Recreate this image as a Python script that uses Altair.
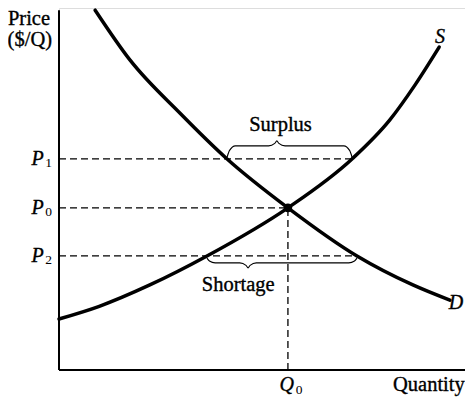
import altair as alt
import pandas as pd

# ---- data (quantity / price units) ----
supply_q = [0.0, 9.8, 22.1, 36.0, 55.7, 71.3, 80.5, 86.6, 92.5]
supply_p = [14.1, 17.6, 23.5, 31.5, 44.8, 58.3, 69.1, 78.7, 89.2]
demand_q = [8.8, 17.3, 29.4, 40.9, 55.7, 72.5, 86.1, 95.1]
demand_p = [99.4, 85.6, 71.0, 58.3, 44.8, 31.5, 23.5, 19.3]

Q0, P0, P1, P2 = 55.7, 44.8, 58.3, 31.5
surplus_q = [40.9, 71.3]     # demand and supply at P1
shortage_q = [36.0, 72.5]    # supply and demand at P2

FONT = "Liberation Serif"
W, H = 406, 362
XMAX = W / 4.11
xs = alt.Scale(domain=[0, XMAX], nice=False, zero=False)
ys = alt.Scale(domain=[0, 100], nice=False, zero=False)

curves = pd.DataFrame(
    [{"q": q, "p": p, "curve": "S", "i": i} for i, (q, p) in enumerate(zip(supply_q, supply_p))]
    + [{"q": q, "p": p, "curve": "D", "i": i} for i, (q, p) in enumerate(zip(demand_q, demand_p))]
)

def brace(name, x1, x2, xm, yend, ybar, ytip):
    d = ybar - yend
    pts = [(x1, yend), (x1 + 0.6, yend + 0.6 * d), (x1 + 2.0, ybar),
           (xm - 2.0, ybar), (xm - 0.5, ybar + 0.5 * (ytip - ybar)), (xm, ytip),
           (xm + 0.5, ybar + 0.5 * (ytip - ybar)), (xm + 2.0, ybar),
           (x2 - 2.0, ybar), (x2 - 0.6, yend + 0.6 * d), (x2, yend)]
    return [{"q": a, "p": b, "b": name, "i": k} for k, (a, b) in enumerate(pts)]

braces = pd.DataFrame(
    brace("surplus", surplus_q[0], surplus_q[1], 53.0, P1 + 0.5, P1 + 3.6, P1 + 5.0)
    + brace("shortage", shortage_q[0], shortage_q[1], 46.0, P2 - 0.6, P2 - 1.9, P2 - 3.3)
)

dashes = pd.DataFrame([
    {"x": 0, "x2": surplus_q[1], "y": P1, "y2": P1},
    {"x": 0, "x2": Q0, "y": P0, "y2": P0},
    {"x": 0, "x2": shortage_q[1], "y": P2, "y2": P2},
    {"x": Q0, "x2": Q0, "y": 0, "y2": P0},
])

axes = pd.DataFrame([
    {"x": 0, "x2": 0, "y": 0, "y2": 99.4},
    {"x": 0, "x2": XMAX, "y": 0, "y2": 0},
])

eq = pd.DataFrame([{"q": Q0, "p": P0}])

words = pd.DataFrame([
    {"x": -7.3, "y": 95.3, "t": "Price"},
    {"x": -7.1, "y": 89.6, "t": "($/Q)"},
    {"x": 53.9, "y": 65.9, "t": "Surplus"},
    {"x": 43.6, "y": 21.8, "t": "Shortage"},
    {"x": 90.0, "y": -5.8, "t": "Quantity"},
])

italics = pd.DataFrame([
    {"x": -5.2, "y": P1, "t": "P"},
    {"x": -5.2, "y": P0, "t": "P"},
    {"x": -5.2, "y": P2, "t": "P"},
    {"x": Q0 - 0.3, "y": -4.2, "t": "Q"},
    {"x": 92.7, "y": 92.0, "t": "S"},
    {"x": 96.6, "y": 18.5, "t": "D"},
])

subs = pd.DataFrame([
    {"x": -2.5, "y": P1 - 1.2, "t": "1"},
    {"x": -2.5, "y": P0 - 1.2, "t": "0"},
    {"x": -2.5, "y": P2 - 1.2, "t": "2"},
    {"x": Q0 + 2.7, "y": -5.6, "t": "0"},
])

X = lambda f: alt.X(f, type="quantitative", scale=xs, axis=None)
Y = lambda f: alt.Y(f, type="quantitative", scale=ys, axis=None)

axis_layer = alt.Chart(axes).mark_rule(color="black", strokeWidth=2).encode(
    x=X("x"), x2="x2", y=Y("y"), y2="y2")

dash_layer = alt.Chart(dashes).mark_rule(color="black", strokeWidth=1.3, strokeDash=[7, 4]).encode(
    x=X("x"), x2="x2", y=Y("y"), y2="y2")

curve_layer = alt.Chart(curves).mark_line(color="black", strokeWidth=3.5, interpolate="monotone",
                                          strokeCap="round").encode(
    x=X("q"), y=Y("p"), detail="curve:N", order="i:Q")

brace_layer = alt.Chart(braces).mark_line(color="black", strokeWidth=1.1, interpolate="monotone").encode(
    x=X("q"), y=Y("p"), detail="b:N", order="i:Q")

eq_layer = alt.Chart(eq).mark_circle(color="black", size=75, opacity=1).encode(x=X("q"), y=Y("p"))

word_layer = alt.Chart(words).mark_text(font=FONT, fontSize=20.5, color="black", align="center",
                                        baseline="alphabetic", stroke="black", strokeWidth=0.35).encode(
    x=X("x"), y=Y("y"), text="t:N")

ital_layer = alt.Chart(italics).mark_text(font=FONT, fontSize=20, fontStyle="italic", color="black",
                                          align="center", baseline="middle",
                                          stroke="black", strokeWidth=0.35).encode(
    x=X("x"), y=Y("y"), text="t:N")

sub_layer = alt.Chart(subs).mark_text(font=FONT, fontSize=13.5, color="black",
                                      align="center", baseline="middle").encode(
    x=X("x"), y=Y("y"), text="t:N")

chart = alt.layer(axis_layer, dash_layer, brace_layer, curve_layer, eq_layer,
                  word_layer, ital_layer, sub_layer).properties(
    width=W, height=H,
    autosize=alt.AutoSizeParams(type="none"),
    padding={"left": 51, "top": 0, "right": 0, "bottom": 28},
).configure_view(stroke=None).configure(background="white")

chart.save("out.html", embed_options={"renderer": "svg", "actions": False})
